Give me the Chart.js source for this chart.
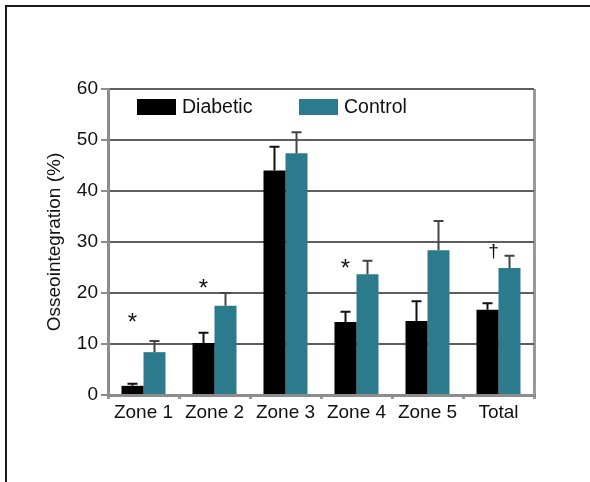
<!DOCTYPE html>
<html>
<head>
<meta charset="utf-8">
<script src="https://cdn.jsdelivr.net/npm/chart.js@4/dist/chart.umd.min.js"></script>
<style>
  html, body { margin: 0; padding: 0; background: #fff; }
  #wrap { position: relative; width: 590px; height: 482px; overflow: hidden; }
  #frame { position: absolute; left: 5px; top: 5px; width: 700px; height: 700px;
           border: 2px solid #1a1a1a; box-sizing: border-box; pointer-events: none; }
  canvas { position: absolute; left: 0; top: 0; }
</style>
</head>
<body>
<div id="wrap">
  <canvas id="chart" width="590" height="482"></canvas>
  <div id="frame"></div>
</div>
<script>
// Osseointegration per zone, mean and upper SD
const zones = ['Zone 1', 'Zone 2', 'Zone 3', 'Zone 4', 'Zone 5', 'Total'];
const diabetic = [1.8, 10.2, 44.0, 14.3, 14.5, 16.7];
const diabeticSD = [0.4, 2.0, 4.7, 2.0, 3.9, 1.3];
const control = [8.4, 17.5, 47.4, 23.7, 28.4, 24.9];
const controlSD = [2.2, 2.5, 4.1, 2.6, 5.7, 2.4];
// significance markers and the level (in %) they sit at
const marks = ['*', '*', '', '*', '', '\u2020'];
const markLevel = [15.5, 22.2, null, 26.1, null, 28.0];
const yTicks = [0, 10, 20, 30, 40, 50, 60];

const FONT = "'Liberation Sans', Arial, sans-serif";
Chart.defaults.font.family = FONT;

const TEAL = '#2b7b8c';
const AXIS_GREY = '#8c8c8c';

// upward error whiskers with caps
const errorBars = {
  id: 'errorBars',
  afterDatasetsDraw(chart) {
    const ctx = chart.ctx;
    const y = chart.scales.y;
    chart.data.datasets.forEach((ds, di) => {
      const meta = chart.getDatasetMeta(di);
      ctx.save();
      ctx.strokeStyle = ds.errColor;
      ctx.lineWidth = 2;
      meta.data.forEach((bar, i) => {
        const top = y.getPixelForValue(ds.data[i] + ds.sd[i]);
        ctx.beginPath();
        ctx.moveTo(bar.x, bar.y);
        ctx.lineTo(bar.x, top);
        ctx.moveTo(bar.x - 5, top);
        ctx.lineTo(bar.x + 5, top);
        ctx.stroke();
      });
      ctx.restore();
    });
  }
};

// asterisks / dagger above the diabetic bars
const sigMarks = {
  id: 'sigMarks',
  afterDatasetsDraw(chart) {
    const ctx = chart.ctx;
    const y = chart.scales.y;
    const meta = chart.getDatasetMeta(0);
    ctx.save();
    ctx.fillStyle = '#111';
    ctx.textAlign = 'center';
    ctx.textBaseline = 'alphabetic';
    marks.forEach((m, i) => {
      if (!m) return;
      const py = y.getPixelForValue(markLevel[i]);
      const star = m === '*';
      ctx.font = (star ? '24px ' : '19px ') + FONT;
      const shift = star ? 14 : 5;
      const dx = star ? 0 : 6;
      ctx.fillText(m, meta.data[i].x + dx, py + shift);
    });
    ctx.restore();
  }
};

// legend drawn inside the plot, top-left
const insideLegend = {
  id: 'insideLegend',
  afterDraw(chart) {
    const ctx = chart.ctx;
    const a = chart.chartArea;
    const starts = [a.left + 29, a.left + 191];
    ctx.save();
    ctx.font = '19.5px ' + FONT;
    ctx.textBaseline = 'middle';
    ctx.textAlign = 'left';
    chart.data.datasets.forEach((ds, i) => {
      const x = starts[i];
      const yc = a.top + 18;
      ctx.fillStyle = ds.backgroundColor;
      ctx.fillRect(x, yc - 8, 39, 16);
      ctx.fillStyle = '#111';
      ctx.fillText(ds.label, x + 45, yc + 1);
    });
    ctx.restore();
  }
};

new Chart(document.getElementById('chart'), {
  type: 'bar',
  data: {
    labels: zones,
    datasets: [
      { label: 'Diabetic', data: diabetic, sd: diabeticSD, backgroundColor: '#000000', errColor: '#111111' },
      { label: 'Control', data: control, sd: controlSD, backgroundColor: TEAL, errColor: '#444444' }
    ]
  },
  options: {
    responsive: false,
    animation: false,
    devicePixelRatio: 1,
    categoryPercentage: 0.62,
    barPercentage: 1.0,
    layout: { padding: { left: 39, top: 89, right: 56, bottom: 0 } },
    plugins: {
      legend: { display: false },
      tooltip: { enabled: false }
    },
    scales: {
      x: {
        border: { color: AXIS_GREY, width: 3 },
        grid: {
          offset: true,
          drawOnChartArea: true,
          color: ctx => ctx.type === 'tick' ? 'rgba(0,0,0,0)' : '#999999',
          lineWidth: 3,
          tickLength: 4,
          tickColor: '#999999'
        },
        ticks: { padding: 2, color: '#111', font: { size: 19 } },
        afterFit: s => { s.height = 87; }
      },
      y: {
        min: 0,
        max: 60,
        afterBuildTicks: s => { s.ticks = yTicks.map(v => ({ value: v })); },
        border: { color: AXIS_GREY, width: 3 },
        grid: {
          color: ctx => (ctx.tick && ctx.tick.value === 0) ? 'rgba(0,0,0,0)' : '#5e5e5e',
          lineWidth: 2,
          tickLength: 7,
          tickColor: AXIS_GREY
        },
        ticks: { padding: 3, color: '#111', font: { size: 19 } },
        title: {
          display: true,
          text: 'Osseointegration (%)',
          color: '#111',
          font: { size: 19 },
          padding: { top: 4, bottom: 4 }
        },
        afterFit: s => { s.width = 69; }
      }
    }
  },
  plugins: [errorBars, sigMarks, insideLegend]
});
</script>
</body>
</html>
